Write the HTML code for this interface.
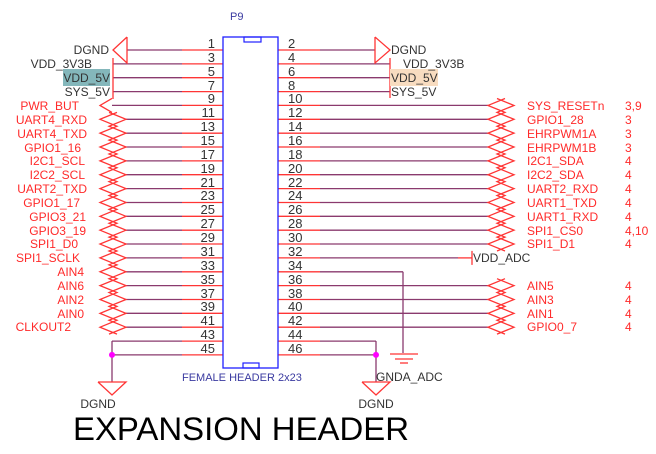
<!DOCTYPE html>
<html><head><meta charset="utf-8"><style>
html,body{margin:0;padding:0;background:#fff;width:656px;height:454px;overflow:hidden}
svg{display:block}
.n{font-family:"Liberation Sans",sans-serif;font-size:13px;fill:#333}
.r{font-family:"Liberation Sans",sans-serif;font-size:12px;fill:#ff2a2a}
.g{font-family:"Liberation Sans",sans-serif;font-size:12px;fill:#333}
.b{font-family:"Liberation Sans",sans-serif;font-size:11px;fill:#3a3aa0}
</style></head><body>
<svg id="s" width="656" height="454" viewBox="0 0 656 454" xmlns="http://www.w3.org/2000/svg">
<g id="geo"></g>
<rect x="63" y="69" width="47" height="17" fill="#84b7bb"/>
<rect x="390" y="69" width="48" height="17" fill="#f8dcc0"/>
<rect x="223" y="37" width="55" height="331" fill="none" stroke="#2020ff" stroke-width="1.3"/>
<rect x="244" y="37" width="17" height="5" fill="none" stroke="#2020ff" stroke-width="1.2"/>
<rect x="243" y="363" width="16" height="5" fill="none" stroke="#2020ff" stroke-width="1.2"/>
<text class="b" x="230" y="20">P9</text>
<text class="b" x="182" y="381">FEMALE HEADER 2x23</text>
<g class="n" text-anchor="end">
<text x="215" y="48">1</text><text x="215" y="62">3</text><text x="215" y="76">5</text><text x="215" y="90">7</text><text x="215" y="103">9</text><text x="215" y="117">11</text><text x="215" y="131">13</text><text x="215" y="145">15</text><text x="215" y="159">17</text><text x="215" y="173">19</text><text x="215" y="187">21</text><text x="215" y="200">23</text><text x="215" y="214">25</text><text x="215" y="228">27</text><text x="215" y="242">29</text><text x="215" y="256">31</text><text x="215" y="270">33</text><text x="215" y="284">35</text><text x="215" y="298">37</text><text x="215" y="311">39</text><text x="215" y="325">41</text><text x="215" y="339">43</text><text x="215" y="353">45</text>
</g>
<g class="n">
<text x="288" y="48">2</text><text x="288" y="62">4</text><text x="288" y="76">6</text><text x="288" y="90">8</text><text x="288" y="103">10</text><text x="288" y="117">12</text><text x="288" y="131">14</text><text x="288" y="145">16</text><text x="288" y="159">18</text><text x="288" y="173">20</text><text x="288" y="187">22</text><text x="288" y="200">24</text><text x="288" y="214">26</text><text x="288" y="228">28</text><text x="288" y="242">30</text><text x="288" y="256">32</text><text x="288" y="270">34</text><text x="288" y="284">36</text><text x="288" y="298">38</text><text x="288" y="311">40</text><text x="288" y="325">42</text><text x="288" y="339">44</text><text x="288" y="353">46</text>
</g>
<g class="g" text-anchor="end">
<text x="109" y="54">DGND</text><text x="92" y="68">VDD_3V3B</text><text x="110" y="82">VDD_5V</text><text x="110" y="96">SYS_5V</text>
</g>
<g class="g">
<text x="391" y="54">DGND</text><text x="403" y="68">VDD_3V3B</text><text x="391" y="82">VDD_5V</text><text x="391" y="96">SYS_5V</text>
<text x="473" y="262">VDD_ADC</text><text x="376" y="381">GNDA_ADC</text>
<text x="98" y="408" text-anchor="middle">DGND</text><text x="376" y="408" text-anchor="middle">DGND</text>
</g>
<g class="r" text-anchor="end">
<text x="79" y="110">PWR_BUT</text><text x="87" y="124">UART4_RXD</text><text x="87" y="138">UART4_TXD</text><text x="81" y="152">GPIO1_16</text><text x="85" y="165">I2C1_SCL</text><text x="85" y="179">I2C2_SCL</text><text x="87" y="193">UART2_TXD</text><text x="80" y="207">GPIO1_17</text><text x="86" y="221">GPIO3_21</text><text x="86" y="235">GPIO3_19</text><text x="78" y="248">SPI1_D0</text><text x="80" y="262">SPI1_SCLK</text><text x="84" y="276">AIN4</text><text x="84" y="290">AIN6</text><text x="84" y="304">AIN2</text><text x="84" y="318">AIN0</text><text x="71" y="331">CLKOUT2</text>
</g>
<g class="r">
<text x="527" y="110">SYS_RESETn</text><text x="527" y="124">GPIO1_28</text><text x="527" y="138">EHRPWM1A</text><text x="527" y="152">EHRPWM1B</text><text x="527" y="165">I2C1_SDA</text><text x="527" y="179">I2C2_SDA</text><text x="527" y="193">UART2_RXD</text><text x="527" y="207">UART1_TXD</text><text x="527" y="221">UART1_RXD</text><text x="527" y="235">SPI1_CS0</text><text x="527" y="248">SPI1_D1</text>
<text x="527" y="290">AIN5</text><text x="527" y="304">AIN3</text><text x="527" y="318">AIN1</text><text x="527" y="331">GPIO0_7</text>
<text x="625" y="110">3,9</text><text x="625" y="124">3</text><text x="625" y="138">3</text><text x="625" y="152">3</text><text x="625" y="165">4</text><text x="625" y="179">4</text><text x="625" y="193">4</text><text x="625" y="207">4</text><text x="625" y="221">4</text><text x="625" y="235">4,10</text><text x="625" y="248">4</text>
<text x="625" y="290">4</text><text x="625" y="304">4</text><text x="625" y="318">4</text><text x="625" y="331">4</text>
</g>
<text x="73" y="440" font-family="Liberation Sans, sans-serif" font-size="32" fill="#000" textLength="336" lengthAdjust="spacingAndGlyphs">EXPANSION HEADER</text>
</svg>
<script>
var g=document.getElementById('geo'),h='';
function Y(k){return 50+13.86*k}
function L(x1,y1,x2,y2,c,w){h+='<line x1="'+x1+'" y1="'+y1+'" x2="'+x2+'" y2="'+y2+'" stroke="'+c+'" stroke-width="'+(w||1.3)+'"/>';}
function P(pts,c){h+='<polyline points="'+pts+'" fill="none" stroke="'+c+'" stroke-width="1.3"/>';}
var R='#ff3535',M='#8a3a6e';
for(var k=0;k<23;k++){var y=Y(k).toFixed(1);
 var le = k==0?127:(k<=3?113:(k==4?112:(k>=21?112:125)));
 L(le,y,182,y,M);L(182,y,223,y,R);
 var re = k==0?375:(k<=3?390:(k==15?458:(k==16?403:(k>=21?376:488))));
 L(278,y,320,y,R);L(320,y,re,y,M);
}
P('127,37 113,50 127,63 127,37',R);
L(113,58,113,99,R);
P('375,37 390,50 375,63 375,37',R);
L(390,58,390,98,R);
function chev(x0,dir,k0,k1){var a='',b='';
 for(var k=k0;k<=k1;k++){var y=Y(k),ym=y+6.93,yp=y-6.93;
  if(k==k0){a+=(x0+dir*17)+','+yp+' ';b+=(x0+dir*9)+','+yp+' ';}
  a+=x0+','+y+' '+(x0+dir*17)+','+ym+' ';
  b+=(x0+dir*26)+','+y+' '+(x0+dir*9)+','+ym+' ';}
 P(a,R);P(b,R);}
P('112,'+(Y(4)-7)+' 100,'+Y(4)+' 112,'+(Y(4)+7),R);
chev(100,1,5,20);
chev(514,-1,4,14);
chev(514,-1,17,20);
L(458,Y(15),472,Y(15),R);L(472,Y(15)-7,472,Y(15)+7,R);
L(403,Y(16),403,353,M);
L(390,354,418,354,R);L(395,359,413,359,R);L(400,363,408,363,R);
L(112,Y(21),112,382,M);L(376,Y(21),376,382,M);
h+='<circle cx="112" cy="'+Y(22)+'" r="3" fill="#ff00ff"/><circle cx="376" cy="'+Y(22)+'" r="3" fill="#ff00ff"/>';
P('98,382 126,382 112,395 98,382',R);
P('362,382 390,382 376,395 362,382',R);
g.innerHTML=h;
</script>
</body></html>
